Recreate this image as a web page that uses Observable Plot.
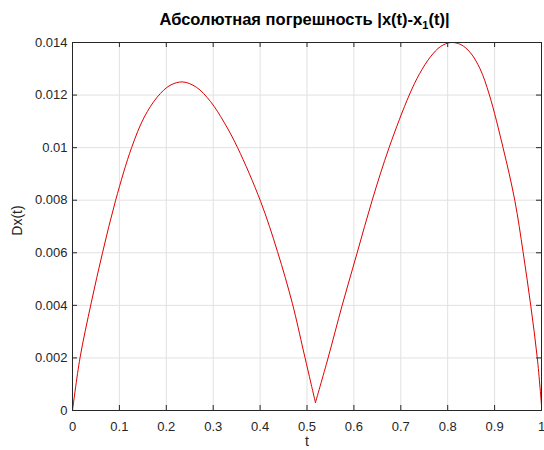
<!DOCTYPE html>
<html>
<head>
<meta charset="utf-8">
<script src="https://cdn.jsdelivr.net/npm/d3@7"></script>
<script src="https://cdn.jsdelivr.net/npm/@observablehq/plot@0.6"></script>
<style>
  html, body { margin: 0; padding: 0; background: #fff; }
  #wrap { width: 544px; height: 450px; position: relative; overflow: hidden; background:#fff; }
  #title { position: relative; height: 30px; }
  #title span {
    position: absolute; left: 70px; width: 469px; top: 11px; text-align: center;
    font: bold 16.5px "Liberation Sans", Arial, sans-serif; line-height: 16px; color: #000; white-space: nowrap;
  }
  #title sub { font-size: 11px; vertical-align: -4px; line-height: 0; }
  #chart svg { display: block; }
</style>
</head>
<body>
<div id="wrap">
  <div id="title"><span>Абсолютная погрешность |x(t)-x<sub>1</sub>(t)|</span></div>
  <div id="chart"></div>
</div>
<script>
// Left hump: time samples and absolute error
const t1 = [0, 0.016, 0.040, 0.064, 0.092, 0.126, 0.153, 0.181, 0.208, 0.235, 0.264, 0.294, 0.323, 0.352, 0.401, 0.437, 0.469, 0.492, 0.505, 0.518];
const dx1 = [0, 0.002, 0.0041, 0.006, 0.008, 0.010, 0.01116, 0.01193, 0.01237, 0.0125, 0.0123, 0.01176, 0.01097, 0.010, 0.00796, 0.00605, 0.00406, 0.0023, 0.0013, 0.0003];
// Right hump: time samples and absolute error
const t2 = [0.518, 0.545, 0.575, 0.607, 0.639, 0.675, 0.718, 0.740, 0.763, 0.785, 0.807, 0.828, 0.848, 0.869, 0.889, 0.918, 0.943, 0.961, 0.977, 0.991, 1.0];
const dx2 = [0.0003, 0.002, 0.004, 0.006, 0.008, 0.010, 0.012, 0.01281, 0.01345, 0.01385, 0.0140, 0.01392, 0.01362, 0.0130, 0.012, 0.010, 0.008, 0.006, 0.004, 0.002, 0.0002];

const xTicks = [0, 0.1, 0.2, 0.3, 0.4, 0.5, 0.6, 0.7, 0.8, 0.9, 1];
const yTicks = [0, 0.002, 0.004, 0.006, 0.008, 0.01, 0.012, 0.014];
const xTickLabels = ["0", "0.1", "0.2", "0.3", "0.4", "0.5", "0.6", "0.7", "0.8", "0.9", "1"];
const yTickLabels = ["0", "0.002", "0.004", "0.006", "0.008", "0.01", "0.012", "0.014"];
const xLabel = "t";
const yLabel = "Dx(t)";

const data = [
  ...t1.map((ti, i) => ({t: ti, v: dx1[i], seg: "a"})),
  ...t2.map((ti, i) => ({t: ti, v: dx2[i], seg: "b"}))
];

const W = 544, H = 420, mT = 12, mB = 40, mL = 72, mR = 3;
const fw = W - mL - mR, fh = H - mT - mB;
const axisColor = "#262626";
const gridColor = "#e1e1e1";
const tickLen = 5;

const chart = Plot.plot({
  width: W, height: H,
  marginTop: mT, marginBottom: mB, marginLeft: mL, marginRight: mR,
  x: {domain: [0, 1]},
  y: {domain: [0, 0.014]},
  style: {fontFamily: '"Liberation Sans", Arial, sans-serif', fontSize: "13px", color: axisColor, background: "white"},
  marks: [
    Plot.gridX(xTicks, {stroke: gridColor, strokeOpacity: 1}),
    Plot.gridY(yTicks, {stroke: gridColor, strokeOpacity: 1}),
    // inward ticks on all four sides
    Plot.tickX(xTicks, {x: d => d, insetTop: fh - tickLen, stroke: axisColor}),
    Plot.tickX(xTicks, {x: d => d, insetBottom: fh - tickLen, stroke: axisColor}),
    Plot.tickY(yTicks, {y: d => d, insetRight: fw - tickLen, stroke: axisColor}),
    Plot.tickY(yTicks, {y: d => d, insetLeft: fw - tickLen, stroke: axisColor}),
    Plot.line(data, {x: "t", y: "v", z: "seg", stroke: "#e00000", strokeWidth: 1, curve: "catmull-rom"}),
    Plot.frame({stroke: axisColor}),
    Plot.axisX(xTicks, {tickSize: 0, tickPadding: 11, tickFormat: (d, i) => xTickLabels[i], label: null, fontSize: 13}),
    Plot.axisY(yTicks, {tickSize: 0, tickPadding: 5, tickFormat: (d, i) => yTickLabels[i], label: null, fontSize: 13}),
    Plot.text([xLabel], {frameAnchor: "bottom", dy: 31, lineAnchor: "middle", textAnchor: "middle", fontSize: 14, fill: axisColor}),
    Plot.text([yLabel], {frameAnchor: "left", dx: -55, dy: -6, rotate: -90, lineAnchor: "middle", textAnchor: "middle", fontSize: 14, fill: axisColor})
  ]
});
document.getElementById("chart").appendChild(chart);
</script>
</body>
</html>
